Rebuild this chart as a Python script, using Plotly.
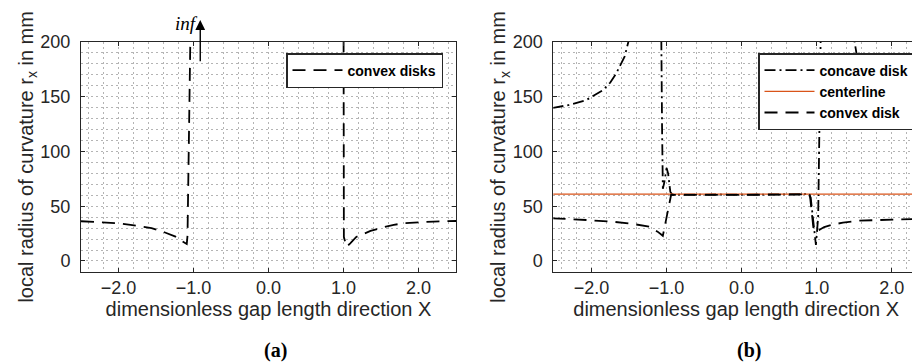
import plotly.graph_objects as go

# ---------------- data: panel (a) convex disks ----------------
a_x_left = [-2.5, -2.2, -2.0, -1.84, -1.69, -1.56, -1.38, -1.24, -1.15, -1.09, -1.08, -1.03]
a_y_left = [36.3, 35.3, 34.4, 33.0, 31.4, 30.0, 26.0, 22.2, 18.0, 15.5, 23.0, 260]
a_x_right = [1.0, 1.005, 1.04, 1.09, 1.17, 1.36, 1.49, 1.67, 1.8, 2.0, 2.2, 2.5]
a_y_right = [260, 22, 13, 16, 22, 27.4, 30, 33, 34.4, 35.5, 36, 36.5]

# ---------------- data: panel (b) ----------------
b_cc_x1 = [-2.52, -2.3, -2.07, -1.85, -1.75, -1.67, -1.56, -1.51, -1.48]
b_cc_y1 = [139.7, 142.5, 147, 156, 163, 171.5, 186.6, 200, 215]
b_cc_x2 = [-1.09, -1.07, -1.06, -1.05, -1.03, -1.0, -0.98, -0.95, -0.92, -0.7, -0.5, -0.3, 0.0,
           0.3, 0.5, 0.7, 0.88, 0.92, 0.95, 0.99, 1.02, 1.035, 1.05, 1.065]
b_cc_y2 = [260, 200, 120, 66, 72, 85, 80, 63, 60.5, 60.8, 60.4, 60.7, 60.5,
           60.5, 60.8, 60.6, 61, 58, 40, 14.6, 40, 100, 160, 260]
b_cc_x3 = [1.47, 1.5, 1.53, 1.6, 1.67, 1.85, 2.07, 2.3, 2.4]
b_cc_y3 = [215, 200, 190, 179, 171.5, 156, 147, 143, 141.5]

b_cl_x = [-2.52, 2.4]
b_cl_y = [61, 61]

b_cv_x = [-2.52, -2.3, -2.07, -1.72, -1.45, -1.23, -1.12, -1.05, -1.0, -0.94, -0.85, -0.6, -0.3, 0.0,
          0.3, 0.6, 0.8, 0.88, 0.91, 0.96, 1.0, 1.05, 1.1, 1.2, 1.35, 1.57, 1.8, 2.1, 2.4]
b_cv_y = [39, 38.4, 37.4, 35.9, 33.8, 31.4, 26.8, 23, 40.5, 60.3, 60.4, 60.2, 60.5, 60.3,
          60.5, 60.3, 60.8, 62, 60, 28, 27, 29, 31, 33, 35, 36.8, 37.5, 38, 38.4]

x_ticks = [-2.0, -1.0, 0.0, 1.0, 2.0]
y_ticks = [0, 50, 100, 150, 200]

BLACK = "#000000"
ORANGE = "#D95319"
AX = "#262626"
FONT = "Liberation Sans, Arial, sans-serif"
SERIF = "Liberation Serif, Times New Roman, serif"
DASH = "13px,8px"
DASHDOT = "11px,4px,2px,4px"

fig = go.Figure()
fig.add_trace(go.Scatter(x=a_x_left + [None] + a_x_right, y=a_y_left + [None] + a_y_right,
                         mode="lines", name="convex disks", xaxis="x", yaxis="y",
                         line=dict(color=BLACK, width=1.8, dash=DASH), legend="legend"))
fig.add_trace(go.Scatter(x=b_cc_x1 + [None] + b_cc_x2 + [None] + b_cc_x3,
                         y=b_cc_y1 + [None] + b_cc_y2 + [None] + b_cc_y3,
                         mode="lines", name="concave disk", xaxis="x2", yaxis="y2",
                         line=dict(color=BLACK, width=1.8, dash=DASHDOT), legend="legend2"))
fig.add_trace(go.Scatter(x=b_cl_x, y=b_cl_y, mode="lines", name="centerline", xaxis="x2", yaxis="y2",
                         line=dict(color=ORANGE, width=1.3), legend="legend2"))
fig.add_trace(go.Scatter(x=b_cv_x, y=b_cv_y, mode="lines", name="convex disk", xaxis="x2", yaxis="y2",
                         line=dict(color=BLACK, width=1.8, dash=DASH), legend="legend2"))

# page body has an 8px margin: figure sits at (8,8) in the window
OFF = 8
W, H = 912, 354

def px(xp):
    return (xp - OFF) / W

def py(yp):
    return 1 - (yp - OFF) / H

ydom = [py(271.7), py(42)]

grid = dict(showgrid=True, gridcolor="#b4b4b4", gridwidth=1, griddash="1.5px,3.5px")

def xax(domain, rng):
    return dict(domain=domain, range=rng, tickvals=x_ticks,
                ticktext=[f"{v:.1f}".replace("-", "\u2212") for v in x_ticks],
                ticks="inside", ticklen=4, tickcolor=AX, showline=True, linecolor=AX, linewidth=1,
                mirror="ticks", zeroline=False, automargin=False, **grid,
                minor=dict(dtick=0.2, tick0=0, **grid),
                tickfont=dict(family=FONT, size=18, color=AX),
                title=dict(text="dimensionless gap length direction X", standoff=4,
                           font=dict(family=FONT, size=20, color=AX)))

def yax(anchor):
    return dict(domain=ydom, range=[-9.8, 200], tickvals=y_ticks, anchor=anchor,
                ticks="inside", ticklen=4, tickcolor=AX, showline=True, linecolor=AX, linewidth=1,
                mirror="ticks", zeroline=False, automargin=False, **grid,
                minor=dict(dtick=10, tick0=0, **grid),
                tickfont=dict(family=FONT, size=18, color=AX), ticklabelstandoff=6,
                title=dict(text="local radius of curvature r<sub>x</sub> in mm", standoff=0,
                           font=dict(family=FONT, size=20, color=AX)))

legend_common = dict(yanchor="top", xanchor="right", bgcolor="white", bordercolor=AX, borderwidth=1.5,
                     font=dict(family=FONT, size=14, color=BLACK, weight="bold"), itemwidth=50,
                     tracegroupgap=0)

fig.update_layout(
    width=W, height=H, margin=dict(l=0, r=0, t=0, b=0, autoexpand=False),
    paper_bgcolor="white", plot_bgcolor="white",
    xaxis=xax([px(81), px(456)], [-2.5, 2.5]) | dict(anchor="y"),
    yaxis=yax("x"),
    xaxis2=xax([px(553.3), px(919)], [-2.51, 2.364]) | dict(anchor="y2"),
    yaxis2=yax("x2"),
    legend=dict(x=px(443), y=py(53), **legend_common),
    legend2=dict(x=px(915), y=py(53), **legend_common),
    showlegend=True,
    annotations=[
        dict(x=-0.91, y=220, xref="x", yref="y", ax=-0.91, ay=181, axref="x", ayref="y",
             showarrow=True, arrowhead=2, arrowsize=1.4, arrowwidth=1.4, arrowcolor=BLACK, text=""),
        dict(x=-1.1, y=py(23), xref="x", yref="paper", xanchor="center", yanchor="middle",
             text="<i>inf</i>", showarrow=False, font=dict(family=SERIF, size=19, color=BLACK)),
        dict(x=px(275), y=py(350), xref="paper", yref="paper", xanchor="center", yanchor="middle",
             text="<b>(a)</b>", showarrow=False, font=dict(family=SERIF, size=20, color=BLACK)),
        dict(x=px(749), y=py(350), xref="paper", yref="paper", xanchor="center", yanchor="middle",
             text="<b>(b)</b>", showarrow=False, font=dict(family=SERIF, size=20, color=BLACK)),
    ],
)

fig.write_html("out.html")
